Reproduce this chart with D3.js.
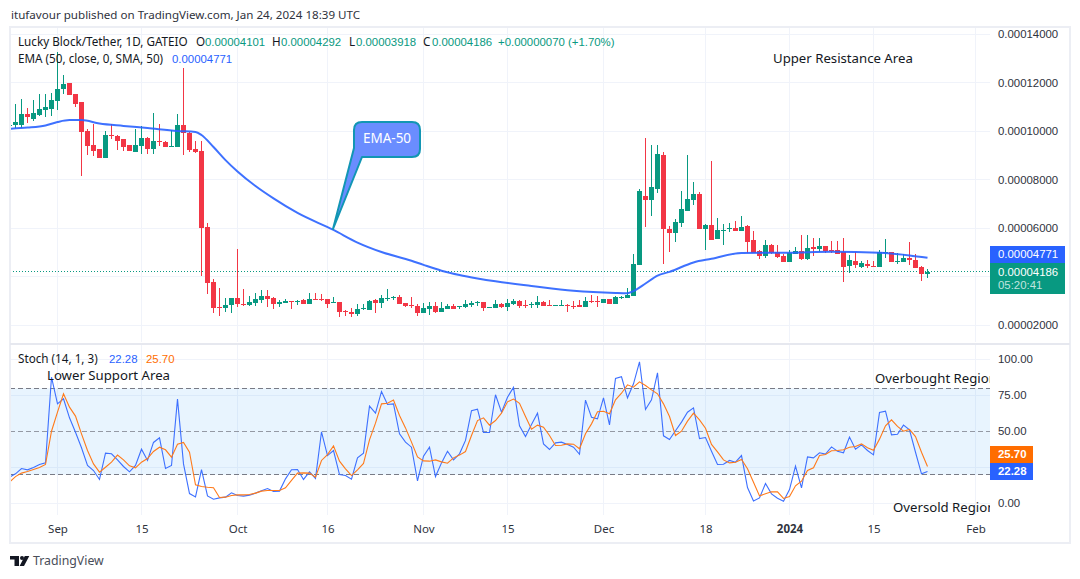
<!DOCTYPE html>
<html>
<head>
<meta charset="utf-8">
<script src="https://cdn.jsdelivr.net/npm/d3@7"></script>
<style>
  html, body { margin: 0; padding: 0; background: #fff; }
  svg { display: block; }
  text { font-family: "Noto Sans", sans-serif; }
  text.num { font-family: "Liberation Sans", sans-serif; font-size: 11.4px; }
</style>
</head>
<body>
<svg id="chart" width="1080" height="579"></svg>
<script>
// prices are in units of 0.00001, one entry per day from Aug 24 2023
var opens = [
  10.20,10.26,10.26,10.70,10.51,10.66,10.88,10.92,11.25,11.73,
  11.98,11.53,11.20,10.00,9.42,9.26,8.90,9.84,9.79,9.67,
  9.42,9.15,9.40,9.71,9.26,9.59,9.55,9.35,9.35,10.25,
  9.92,9.26,9.18,6.04,3.77,2.74,2.72,2.84,3.11,2.87,
  2.84,2.92,3.04,3.20,3.11,2.88,2.92,2.99,2.96,3.03,
  2.88,3.07,3.07,3.07,2.92,2.95,2.58,2.54,2.47,2.66,
  2.62,3.03,2.91,3.07,3.11,3.16,2.91,2.83,2.79,2.50,
  2.66,2.79,2.54,2.66,2.79,2.74,2.74,2.83,2.92,2.95,
  2.71,2.70,2.87,2.74,2.87,2.99,2.83,2.83,2.83,2.95,
  2.83,2.79,2.79,2.83,2.79,2.83,2.74,2.99,2.99,2.91,
  3.07,2.87,3.11,3.11,3.20,4.47,7.32,7.15,7.61,9.01,
  5.96,5.79,6.21,6.70,7.15,7.40,5.96,6.12,5.55,5.88,
  5.97,6.00,5.88,6.08,5.50,5.05,4.85,5.30,5.01,4.85,
  4.60,4.93,5.05,4.72,5.22,5.13,5.26,5.09,5.09,5.01,
  4.43,4.64,4.39,4.52,4.43,4.39,4.97,5.01,4.60,4.60,
  4.76,4.68,4.39,4.101
];
var highs = [
  10.29,11.11,11.32,10.96,11.28,11.53,11.53,11.57,13.27,12.31,
  11.98,11.53,11.21,10.07,10.29,9.26,10.00,10.29,9.84,9.67,
  9.42,10.08,10.22,9.74,10.74,10.29,9.59,10.04,10.70,12.58,
  9.96,9.59,9.59,6.19,3.88,3.52,3.11,3.11,5.13,3.48,
  3.20,3.32,3.44,3.44,3.15,3.03,3.07,2.99,3.03,3.07,
  3.32,3.32,3.28,3.07,3.15,2.95,2.63,2.70,2.87,2.87,
  3.03,3.07,3.24,3.49,3.20,3.24,2.91,3.16,2.87,2.91,
  2.95,2.95,2.95,2.87,2.87,2.79,3.03,2.99,2.99,2.95,
  2.74,3.03,2.91,3.07,3.07,3.03,3.03,2.95,3.20,2.99,
  3.03,2.83,3.03,2.87,2.99,3.03,3.16,3.24,3.20,3.07,
  3.07,3.20,3.20,3.53,4.93,7.61,9.71,9.42,9.42,9.13,
  6.08,6.37,7.53,9.01,7.90,7.49,6.17,8.76,6.41,6.17,
  6.21,6.29,6.50,6.12,5.88,5.09,5.50,5.34,5.30,4.93,
  5.09,5.22,5.71,5.71,5.59,5.59,5.26,5.46,5.46,5.59,
  4.89,5.01,4.64,4.68,4.64,5.09,5.55,5.01,4.97,4.93,
  5.42,4.93,4.43,4.292
];
var lows = [
  10.15,10.11,10.14,10.32,10.43,10.62,10.59,10.62,10.87,11.53,
  11.49,11.00,8.14,9.01,8.97,8.90,8.90,9.67,9.22,9.18,
  9.18,9.15,9.05,9.05,9.05,9.38,9.35,9.35,9.35,9.01,
  9.13,9.08,4.02,3.28,2.51,2.39,2.55,2.51,2.76,2.80,
  2.80,2.80,2.92,2.76,2.67,2.76,2.91,2.67,2.84,2.88,
  2.88,3.04,2.97,2.72,2.92,2.34,2.39,2.34,2.39,2.62,
  2.62,2.50,2.70,2.99,3.03,2.87,2.74,2.70,2.37,2.50,
  2.41,2.50,2.54,2.66,2.66,2.66,2.70,2.74,2.79,2.58,
  2.70,2.70,2.70,2.58,2.83,2.70,2.70,2.70,2.70,2.79,
  2.79,2.79,2.79,2.54,2.66,2.74,2.74,2.91,2.74,2.91,
  2.87,2.87,3.07,3.11,3.20,4.47,6.04,6.50,7.44,4.52,
  5.01,5.42,6.04,6.70,6.95,5.96,5.09,5.50,5.55,5.30,
  5.84,5.88,5.88,4.97,4.97,4.72,4.76,4.93,4.76,4.60,
  4.60,4.93,4.68,4.68,4.85,5.01,4.97,4.97,4.93,3.77,
  4.14,4.35,4.35,4.35,4.39,4.39,4.76,4.60,4.52,4.60,
  4.48,4.35,3.81,3.918
];
var closes = [
  10.25,10.37,10.70,10.59,10.74,10.91,10.99,11.28,11.73,11.94,
  11.49,11.11,9.96,9.40,9.18,8.90,9.84,9.79,9.60,9.35,
  9.18,9.42,9.71,9.26,9.59,9.55,9.35,9.38,10.25,9.92,
  9.22,9.13,6.01,3.75,2.72,2.72,2.83,3.11,2.88,2.83,
  2.95,3.07,3.20,3.09,2.88,2.96,2.99,2.96,2.99,2.88,
  3.07,3.04,3.04,2.88,2.95,2.55,2.55,2.47,2.66,2.70,
  2.99,2.91,3.11,3.11,3.16,2.87,2.79,2.79,2.50,2.70,
  2.79,2.54,2.70,2.79,2.66,2.79,2.87,2.91,2.95,2.70,
  2.74,2.87,2.74,2.91,2.99,2.79,2.79,2.87,2.95,2.79,
  2.79,2.83,2.83,2.79,2.74,2.74,2.99,2.95,2.95,3.07,
  2.87,3.16,3.16,3.24,4.52,7.53,7.15,7.69,9.05,5.96,
  5.79,6.25,6.78,7.20,7.40,5.96,6.12,5.50,5.92,5.92,
  6.01,5.88,6.04,5.42,4.97,4.85,5.30,4.97,4.80,4.60,
  4.97,5.05,4.72,5.18,5.13,5.26,5.05,5.05,4.93,4.39,
  4.68,4.48,4.56,4.43,4.39,5.01,5.01,4.60,4.64,4.76,
  4.68,4.35,4.10,4.186
];

// EMA read at these bars (index into the daily arrays)
var emaBars = [0,3,6,8,10,12,15,19,23,28,31,32,34,36,38,41,44,48,54,58,62,67,69,72,75,78,81,87,94,101,103,104,106,108,110,114,117,122,130,137,145,150,153];
var emaValues = [10.09,10.14,10.23,10.37,10.45,10.45,10.31,10.21,10.12,10.00,9.96,9.835,9.34,8.80,8.33,7.73,7.22,6.62,5.92,5.40,5.01,4.65,4.48,4.24,4.06,3.92,3.80,3.61,3.41,3.32,3.31,3.40,3.71,4.04,4.19,4.58,4.73,4.97,4.98,5.02,4.98,4.87,4.771];

var stochK = [
  18.3,20.6,24.3,23.4,25.0,27.1,28.2,87.7,69.2,72.7,59.5,49.5,38.7,26.4,22.9,16.7,35.0,34.5,30.3,25.7,
  22.0,26.4,37.7,29.9,42.4,45.6,24.3,26.4,72.5,27.5,6.9,4.6,23.6,5.3,3.0,3.9,4.4,7.4,5.6,5.1,
  5.8,7.2,8.8,10.4,8.3,8.6,17.1,23.4,23.6,16.7,22.0,17.4,49.8,33.3,36.8,20.1,
  19.4,16.9,31.7,35.0,67.6,62.7,77.8,68.8,69.2,48.4,42.6,39.1,15.7,32.9,39.1,18.7,28.2,36.3,30.3,34.5,
  43.8,64.4,65.5,49.3,49.3,75.5,63.4,73.8,80.6,53.9,46.5,54.9,62.7,41.4,37.5,42.1,42.6,41.0,39.1,34.2,
  71.8,59.9,58.8,73.4,54.6,86.8,88.0,73.4,83.1,98.4,65.3,72.0,90.7,47.0,44.4,50.5,
  56.5,63.4,66.4,45.1,45.8,36.3,27.1,27.3,29.9,28.7,33.3,11.1,1.8,3.9,13.9,6.7,3.7,1.6,9.7,25.9,
  10.9,32.4,31.7,35.2,34.3,39.3,36.3,35.2,46.1,37.7,40.7,36.8,33.8,63.2,64.1,47.7,48.1,54.4,51.2,35.6,
  20.6,22.28
];
var stochD = [
  14.8,18.7,21.1,22.2,23.6,25.0,27.1,50.2,63.4,76.2,66.9,60.7,48.4,36.8,27.5,21.8,25.2,28.7,33.6,30.3,
  26.2,24.8,28.7,31.2,36.1,39.1,37.3,32.2,41.2,42.4,35.6,13.0,11.8,11.3,10.9,4.2,4.4,5.6,6.0,6.0,
  6.2,7.2,8.6,9.0,9.0,9.0,10.9,16.0,21.1,21.3,21.1,18.3,29.9,34.0,40.0,29.4,
  24.1,19.4,23.4,27.8,44.2,55.8,69.2,69.6,71.8,61.1,52.5,42.6,32.4,29.6,29.4,30.3,28.9,28.0,31.7,33.6,
  36.1,47.2,57.6,59.5,54.4,57.6,62.7,70.6,72.5,69.6,60.4,51.6,54.4,53.0,47.2,40.3,40.5,41.4,41.2,38.0,
  48.4,55.3,63.7,64.1,62.3,72.0,76.6,82.4,80.8,84.5,81.9,78.9,76.2,69.2,60.4,47.2,
  50.2,57.2,62.7,58.1,52.3,41.0,35.9,30.3,28.2,28.7,30.6,24.1,14.8,5.3,6.7,8.1,8.1,3.5,4.9,12.3,
  15.5,22.9,24.8,33.3,34.0,36.6,36.8,37.3,39.1,39.6,41.4,38.7,37.0,44.7,53.9,58.1,53.5,50.2,51.4,46.5,
  35.6,25.70
];

var priceTicks = [14, 12, 10, 8, 6, 2];
var stochTicks = [100, 75, 50, 0];
var stochGrid = [100, 75, 25, 0];
var timeTicks = ["2023-09-01","2023-09-15","2023-10-01","2023-10-16","2023-11-01","2023-11-15","2023-12-01","2023-12-18","2024-01-01","2024-01-15","2024-02-01"];
var timeLabels = ["Sep","15","Oct","16","Nov","15","Dec","18","2024","15","Feb"];

var lastPrice = 4.186, emaLast = 4.771;
var GREEN = "#089981", RED = "#f23645", BLUE = "#2962ff", ORANGE = "#ff6d00";
var INK = "#131722", BORDER = "#eceef4", GRID = "#f0f3fa";

var svg = d3.select("#chart");
var dates = d3.utcDay.range(new Date(Date.UTC(2023, 7, 24)), new Date(Date.UTC(2024, 0, 25)));
var parse = d3.utcParse("%Y-%m-%d");

var x = d3.scaleUtc().domain([parse("2023-09-01"), parse("2024-02-01")]).range([57.5, 975.5]);
var y = d3.scaleLinear().domain([14, 2]).range([34, 325]);
var yS = d3.scaleLinear().domain([100, 0]).range([359.5, 503.5]);

var defs = svg.append("defs");
defs.append("clipPath").attr("id", "clipPrice").append("rect").attr("x", 11).attr("y", 28).attr("width", 979).attr("height", 314);
defs.append("clipPath").attr("id", "clipStoch").append("rect").attr("x", 11).attr("y", 345).attr("width", 979).attr("height", 170);

// frame
svg.append("rect").attr("x", 10).attr("y", 27).attr("width", 1060).attr("height", 516)
  .attr("fill", "none").attr("stroke", BORDER).attr("stroke-width", 2);
svg.append("rect").attr("x", 10).attr("y", 343).attr("width", 1060).attr("height", 2).attr("fill", "#e6e8ef");

var pricePane = svg.append("g").attr("clip-path", "url(#clipPrice)");
var stochPane = svg.append("g").attr("clip-path", "url(#clipStoch)");

// grid
function grid(pane, ticks, scale, y0, y1) {
  pane.selectAll("line.h").data(ticks).enter().append("line").attr("class", "h")
    .attr("x1", 10).attr("x2", 990)
    .attr("y1", function(d) { return Math.floor(scale(d)) + 0.5; })
    .attr("y2", function(d) { return Math.floor(scale(d)) + 0.5; })
    .attr("stroke", GRID);
  pane.selectAll("line.v").data(timeTicks).enter().append("line").attr("class", "v")
    .attr("x1", function(d) { return x(parse(d)); })
    .attr("x2", function(d) { return x(parse(d)); })
    .attr("y1", y0).attr("y2", y1).attr("stroke", GRID);
}
grid(pricePane, [14, 12, 10, 8, 6, 4, 2], y, 28, 342);
grid(stochPane, stochGrid, yS, 345, 515);

// last price dotted line
pricePane.append("line").attr("x1", 10).attr("x2", 990)
  .attr("y1", Math.floor(y(lastPrice)) + 0.5).attr("y2", Math.floor(y(lastPrice)) + 0.5)
  .attr("stroke", GREEN).attr("stroke-dasharray", "1 2");

// candles
var candles = pricePane.selectAll("g.candle").data(dates).enter().append("g").attr("class", "candle")
  .attr("fill", function(d, i) { return closes[i] >= opens[i] ? GREEN : RED; });
candles.append("rect").attr("shape-rendering", "crispEdges")
  .attr("x", function(d) { return x(d) - 0.5; }).attr("width", 1)
  .attr("y", function(d, i) { return y(highs[i]); })
  .attr("height", function(d, i) { return y(lows[i]) - y(highs[i]); });
candles.append("rect").attr("shape-rendering", "crispEdges")
  .attr("x", function(d) { return x(d) - 2.5; }).attr("width", 5)
  .attr("y", function(d, i) { return y(Math.max(opens[i], closes[i])); })
  .attr("height", function(d, i) { return Math.max(1, Math.abs(y(opens[i]) - y(closes[i]))); });

// EMA
var emaLine = d3.line()
  .x(function(d) { return x(dates[d]); })
  .y(function(d, i) { return y(emaValues[i]); })
  .curve(d3.curveMonotoneX);
pricePane.append("path").datum(emaBars).attr("d", emaLine)
  .attr("fill", "none").attr("stroke", BLUE).attr("stroke-width", 2).attr("opacity", 0.9);

// stochastic pane
stochPane.append("rect").attr("x", 10).attr("width", 980)
  .attr("y", yS(80)).attr("height", yS(20) - yS(80)).attr("fill", "#2196f3").attr("fill-opacity", 0.1);
[[80, 1], [50, 0.75], [20, 1]].forEach(function(b) {
  stochPane.append("line").attr("x1", 10).attr("x2", 990)
    .attr("y1", Math.floor(yS(b[0])) + 0.5).attr("y2", Math.floor(yS(b[0])) + 0.5)
    .attr("stroke", "#787b86").attr("stroke-opacity", b[1]).attr("stroke-dasharray", "5 3");
});
function stochLine(values, color) {
  stochPane.append("path").datum(values)
    .attr("d", d3.line().x(function(d, i) { return x(dates[i]); }).y(function(d) { return yS(d); }))
    .attr("fill", "none").attr("stroke", color).attr("stroke-width", 1.1);
}
stochLine(stochK, "#3d70ff");
stochLine(stochD, "#ff7a1a");

// axes
function cleanAxis(g) {
  g.select(".domain").remove();
  g.selectAll("text").attr("fill", "#2f333d").attr("class", "num").attr("font-size", null).attr("font-family", null);
}
svg.append("g").attr("transform", "translate(990,0)")
  .call(d3.axisRight(y).tickValues(priceTicks).tickSize(0).tickPadding(8)
    .tickFormat(function(d) { return (d * 1e-5).toFixed(8); }))
  .call(cleanAxis);
svg.append("g").attr("transform", "translate(990,-1)")
  .call(d3.axisRight(yS).tickValues(stochTicks).tickSize(0).tickPadding(8).tickFormat(d3.format(".2f")))
  .call(cleanAxis);
svg.append("g").attr("transform", "translate(0,519)")
  .call(d3.axisBottom(x).tickValues(timeTicks.map(parse)).tickSize(0).tickPadding(6)
    .tickFormat(function(d, i) { return timeLabels[i]; }))
  .call(cleanAxis)
  .selectAll("text")
  .attr("class", null).attr("font-size", 11.5)
  .attr("font-weight", function(d, i) { return timeLabels[i] == "2024" ? 700 : 400; });

// labels on the axes
function axisTag(top, h, w, fill) {
  svg.append("rect").attr("x", 990).attr("y", top).attr("width", w).attr("height", h).attr("fill", fill);
}
function tagText(label, cy, opacity, weight) {
  svg.append("text").attr("class", "num").attr("x", 998).attr("y", cy).attr("dy", ".35em").attr("fill", "#fff")
    .attr("fill-opacity", opacity).attr("font-weight", weight).text(label);
}
axisTag(246, 17, 75, BLUE);
tagText((emaLast * 1e-5).toFixed(8), 254.5, 1, 400);
axisTag(263, 31, 75, GREEN);
tagText((lastPrice * 1e-5).toFixed(8), 272, 1, 400);
tagText("05:20:41", 285.5, 0.75, 400);
axisTag(446, 17, 43, ORANGE);
tagText(stochD[stochD.length - 1].toFixed(2), 454.5, 1, 700);
axisTag(463, 17, 43, BLUE);
tagText(stochK[stochK.length - 1].toFixed(2), 471.5, 1, 700);

// header and legends
function label(txt, px, py, color, size) {
  return svg.append("text").attr("x", px).attr("y", py).attr("dy", ".35em")
    .attr("fill", color).attr("font-size", size || 11.7).text(txt);
}
function number(txt, px, py, color) {
  return svg.append("text").attr("class", "num").attr("x", px).attr("y", py).attr("dy", ".35em")
    .attr("fill", color).text(txt);
}
label("itufavour published on TradingView.com, Jan 24, 2024 18:39 UTC", 11, 15, "#2f333d", 11.6);
label("Lucky Block/Tether, 1D, GATEIO", 18, 42, INK);
label("O", 196, 42, INK); number((opens[153] * 1e-5).toFixed(8), 205, 42, GREEN);
label("H", 272, 42, INK); number((highs[153] * 1e-5).toFixed(8), 281, 42, GREEN);
label("L", 349, 42, INK); number((lows[153] * 1e-5).toFixed(8), 356, 42, GREEN);
label("C", 423, 42, INK); number((closes[153] * 1e-5).toFixed(8), 432, 42, GREEN);
number("+0.00000070 (+1.70%)", 498, 42, GREEN);
label("EMA (50, close, 0, SMA, 50)", 18, 59, INK);
number((emaLast * 1e-5).toFixed(8), 172, 59, BLUE);
label("Stoch (14, 1, 3)", 18, 359, INK);
number(stochK[stochK.length - 1].toFixed(2), 109, 359, BLUE);
number(stochD[stochD.length - 1].toFixed(2), 146, 359, ORANGE);

// drawn text on the chart
label("Upper Resistance Area", 773, 58, INK, 13.2);
label("Lower Support Area", 47, 375.5, INK, 13.2);
var notes = svg.append("g").attr("clip-path", "url(#clipStoch)");
notes.append("text").attr("x", 875).attr("y", 378).attr("dy", ".35em").attr("fill", INK).attr("font-size", 13.2).text("Overbought Region");
notes.append("text").attr("x", 893).attr("y", 507).attr("dy", ".35em").attr("fill", INK).attr("font-size", 13.2).text("Oversold Region");

// callout
svg.append("path")
  .attr("d", "M333,229 L354,148 L354,130 Q354,122 362,122 L412,122 Q420,122 420,130 L420,149 Q420,157 412,157 L362,157 Z")
  .attr("fill", "#6a8dff").attr("stroke", "#1296b4").attr("stroke-width", 2).attr("stroke-linejoin", "round");
svg.append("text").attr("x", 387).attr("y", 138.5).attr("dy", ".35em").attr("text-anchor", "middle")
  .attr("fill", "#fff").attr("font-size", 13.5).text("EMA-50");

// footer logo
svg.append("path").attr("d", "M10,556 H19 V566 H14.5 V559.6 H10 Z M24.8,556 H29.3 L24,566 H19.6 Z").attr("fill", INK);
svg.append("circle").attr("cx", 22).attr("cy", 558).attr("r", 2).attr("fill", INK);
label("TradingView", 33, 561, "#4a4e59", 12.3);
</script>
</body>
</html>
